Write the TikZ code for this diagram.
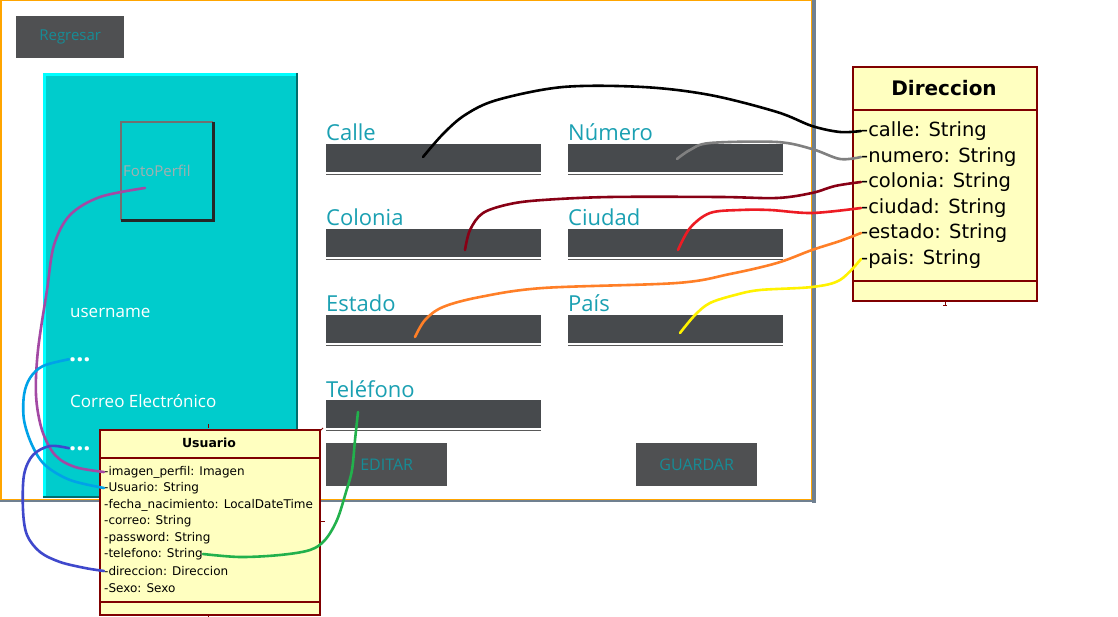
\documentclass[tikz,border=0pt]{standalone}
\usepackage{fontspec}
\setmainfont{Open Sans}
\newfontfamily\umlfont{DejaVu Sans}
\usepackage{xcolor}

\definecolor{fieldgray}{RGB}{71,74,77}
\definecolor{btngray}{RGB}{79,80,82}
\definecolor{labelteal}{RGB}{26,160,178}
\definecolor{btnteal}{RGB}{22,140,150}
\definecolor{panelcyan}{RGB}{0,204,204}
\definecolor{panelhi}{RGB}{0,255,255}
\definecolor{panellow}{RGB}{0,110,110}
\definecolor{framegray}{RGB}{112,112,112}
\definecolor{shadowgray}{RGB}{112,128,144}
\definecolor{winorange}{RGB}{255,165,0}
\definecolor{umlyellow}{RGB}{255,255,192}
\definecolor{umlred}{RGB}{128,0,0}
\definecolor{wmaroon}{RGB}{136,0,21}
\definecolor{wred}{RGB}{237,28,36}
\definecolor{worange}{RGB}{255,127,39}
\definecolor{wyellow}{RGB}{255,242,0}
\definecolor{wpurple}{RGB}{163,73,164}
\definecolor{wblue}{RGB}{0,162,232}
\definecolor{windigo}{RGB}{63,72,204}
\definecolor{wgreen}{RGB}{34,177,76}

\begin{document}
\begin{tikzpicture}[x=1pt,y=-1pt,
  field/.style={fill=fieldgray, anchor=north west, inner sep=0pt, minimum width=215pt, minimum height=28pt},
  uline/.style={draw=black!65, line width=1pt},
  flabel/.style={anchor=base west, inner sep=0pt, text=labelteal, font=\fontsize{22}{24}\selectfont},
  button/.style={fill=btngray, anchor=north west, inner sep=0pt, text=btnteal, font=\fontsize{16}{18}\selectfont},
  ptext/.style={anchor=base west, inner sep=0pt, text=white, font=\fontsize{17}{19}\selectfont},
  dots/.style={anchor=base west, inner sep=0pt, text=white, font=\fontsize{25}{25}\selectfont\bfseries},
  umlbox/.style={draw=umlred, fill=umlyellow, anchor=north west, inner sep=0pt},
  attrbig/.style={anchor=west, inner sep=0pt, font=\umlfont\fontsize{19.5}{21}\selectfont},
  attrsmall/.style={anchor=west, inner sep=0pt, font=\umlfont\fontsize{12}{14}\selectfont},
  wire/.style={line width=2.6pt, line cap=round, line join=round},
  tick/.style={draw=umlred, line width=1pt}]

\useasboundingbox (0,0) rectangle (1118,617);
\fill[white] (0,0) rectangle (1118,617);

% window
\fill[shadowgray] (811.5,0) rectangle (816,503);
\fill[shadowgray] (0,500) rectangle (816,502);
\draw[winorange, line width=1.5pt] (0.75,0.75) rectangle (811.5,499.5);

\node[button, minimum width=108pt, minimum height=42pt, font=\fontsize{15}{17}\selectfont] (regresar) at (16,16) {Regresar};

% profile panel
\node[fill=panelcyan, anchor=north west, inner sep=0pt, minimum width=255pt, minimum height=425pt] (perfil) at (43,73) {};
\draw[panelhi, line width=3pt] ([xshift=1.5pt]perfil.south west) -- ([xshift=1.5pt,yshift=-1.5pt]perfil.north west) -- ([yshift=-1.5pt]perfil.north east);
\draw[panellow, line width=2pt] ([xshift=-1pt]perfil.north east) -- ([xshift=-1pt,yshift=1pt]perfil.south east) -- ([yshift=1pt]perfil.south west);
\node[anchor=north west, inner sep=0pt, minimum width=92pt, minimum height=98pt] (foto) at (121,122) {};
\draw[framegray, line width=2pt] (foto.south west) -- (foto.north west) -- (foto.north east);
\draw[black!85, line width=2.5pt] (foto.north east) -- (foto.south east) -- (foto.south west);
\node[anchor=base west, inner sep=0pt, text={rgb,255:red,165;green,175;blue,175}, font=\fontsize{15}{17}\selectfont] (fotoTxt) at (123,177) {FotoPerfil};
\node[ptext] (userTxt) at (70,317) {username};
\node[dots] (dotsA) at (69,361) {...};
\node[ptext] (correoTxt) at (70,407) {Correo Electrónico};
\node[dots] (dotsB) at (69,450) {...};

% form fields
\node[flabel] (calleLbl) at (326,141) {Calle};
\node[field] (calleBox) at (326,144) {};
\draw[uline] ([yshift=-2.5pt]calleBox.south west) -- ([yshift=-2.5pt]calleBox.south east);
\node[flabel] (numeroLbl) at (568,141) {Número};
\node[field] (numeroBox) at (568,144) {};
\draw[uline] ([yshift=-2.5pt]numeroBox.south west) -- ([yshift=-2.5pt]numeroBox.south east);
\node[flabel] (coloniaLbl) at (326,226) {Colonia};
\node[field] (coloniaBox) at (326,229) {};
\draw[uline] ([yshift=-2.5pt]coloniaBox.south west) -- ([yshift=-2.5pt]coloniaBox.south east);
\node[flabel] (ciudadLbl) at (568,226) {Ciudad};
\node[field] (ciudadBox) at (568,229) {};
\draw[uline] ([yshift=-2.5pt]ciudadBox.south west) -- ([yshift=-2.5pt]ciudadBox.south east);
\node[flabel] (estadoLbl) at (326,312) {Estado};
\node[field] (estadoBox) at (326,315) {};
\draw[uline] ([yshift=-2.5pt]estadoBox.south west) -- ([yshift=-2.5pt]estadoBox.south east);
\node[flabel] (paisLbl) at (568,312) {País};
\node[field] (paisBox) at (568,315) {};
\draw[uline] ([yshift=-2.5pt]paisBox.south west) -- ([yshift=-2.5pt]paisBox.south east);
\node[flabel] (telLbl) at (326,397) {Teléfono};
\node[field] (telBox) at (326,400) {};
\draw[uline] ([yshift=-2.5pt]telBox.south west) -- ([yshift=-2.5pt]telBox.south east);

\node[button, minimum width=121pt, minimum height=43pt] (editar) at (326,443) {EDITAR};
\node[button, minimum width=121pt, minimum height=43pt] (guardar) at (636,443) {GUARDAR};

% class Direccion
\node[umlbox, line width=2pt, minimum width=184pt, minimum height=234pt] (direccion) at (852,66) {};
\draw[umlred, line width=2pt] (852,110) -- (1036,110);
\draw[umlred, line width=2pt] (852,281) -- (1036,281);
\node[inner sep=0pt, font=\umlfont\fontsize{20}{22}\selectfont\bfseries] (dirTitle) at (944,88) {Direccion};
\node[attrbig] (dCalle) at (861,131) {-calle: String};
\node[attrbig] (dNumero) at (861,157) {-numero: String};
\node[attrbig] (dColonia) at (861,182) {-colonia: String};
\node[attrbig] (dCiudad) at (861,208) {-ciudad: String};
\node[attrbig] (dEstado) at (861,233) {-estado: String};
\node[attrbig] (dPais) at (861,259) {-pais: String};
\draw[tick] (945,301) -- (945,306) (943,306) -- (947,306);

% class Usuario
\node[umlbox, line width=1.5pt, minimum width=220pt, minimum height=185pt] (usuario) at (99,429) {};
\draw[umlred, line width=1.5pt] (99,458) -- (319,458);
\draw[umlred, line width=1.5pt] (99,602) -- (319,602);
\node[inner sep=0pt, font=\umlfont\fontsize{12.5}{14}\selectfont\bfseries] (usrTitle) at (209,443) {Usuario};
\node[attrsmall] (uImagen) at (104,472) {-imagen\_perfil: Imagen};
\node[attrsmall] (uUsuario) at (104,488) {-Usuario: String};
\node[attrsmall] (uFecha) at (104,505) {-fecha\_nacimiento: LocalDateTime};
\node[attrsmall] (uCorreo) at (104,521) {-correo: String};
\node[attrsmall] (uPassword) at (104,538) {-password: String};
\node[attrsmall] (uTelefono) at (104,554) {-telefono: String};
\node[attrsmall] (uDireccion) at (104,571) {-direccion: Direccion};
\node[attrsmall] (uSexo) at (104,588) {-Sexo: Sexo};
\draw[tick] (208,424) -- (208,428);
\draw[tick] (208,614) -- (208,617);
\draw[tick] (321,521) -- (325,521);
\draw[tick] (320,431) -- (323,428);

% hand drawn links
\coordinate (calleIn) at (423,157);
\coordinate (numeroIn) at (677,159);
\coordinate (coloniaIn) at (465,250);
\coordinate (ciudadIn) at (678,250);
\coordinate (estadoIn) at (415,337);
\coordinate (paisIn) at (680,333);
\coordinate (telIn) at (358,412);
\coordinate (fotoIn) at (145,188);
\coordinate (dotsAIn) at (dotsA.west);
\coordinate (dotsBIn) at (dotsB.west);

\draw[wire, black] plot[smooth, tension=0.55] coordinates {(calleIn) (443,134) (465,115) (497,100) (563,87) (643,87) (710,95) (777,112) (812,126) (840,132) (dCalle.west)};
\draw[wire, black!50] plot[smooth, tension=0.55] coordinates {(numeroIn) (690,150) (710,143) (777,142) (812,149) (840,159) (dNumero.west)};
\draw[wire, wmaroon] plot[smooth, tension=0.55] coordinates {(coloniaIn) (470,230) (483,213) (510,204) (543,200) (610,197) (720,197) (777,198) (812,193) (835,186) (dColonia.west)};
\draw[wire, wred] plot[smooth, tension=0.55] coordinates {(ciudadIn) (690,228) (710,213) (740,210) (770,210) (812,213) (dCiudad.west)};
\draw[wire, worange] plot[smooth, tension=0.55] coordinates {(estadoIn) (425,320) (443,307) (480,297) (543,288) (677,283) (730,274) (777,263) (812,250) (840,241) (dEstado.west)};
\draw[wire, wyellow] plot[smooth, tension=0.55] coordinates {(paisIn) (695,315) (710,303) (735,295) (760,290) (812,287) (840,280) (dPais.west)};
\draw[wire, wpurple] plot[smooth, tension=0.55] coordinates {(fotoIn) (100,197) (70,215) (54,245) (47,290) (38,350) (36,395) (42,430) (55,455) (75,467) (uImagen.west)};
\draw[wire, wblue] plot[smooth, tension=0.55] coordinates {(dotsAIn) (43,366) (30,378) (24,395) (24,420) (32,445) (45,465) (70,480) (uUsuario.west)};
\draw[wire, windigo] plot[smooth, tension=0.55] coordinates {(dotsBIn) (50,446) (33,455) (24,475) (23,510) (27,535) (40,552) (60,562) (85,568) (uDireccion.west)};
\draw[wire, wgreen] plot[smooth, tension=0.55] coordinates {(telIn) (355,440) (352,470) (346,492) (337,520) (325,540) (310,550) (280,555) (240,557) (uTelefono.east)};

\end{tikzpicture}
\end{document}
